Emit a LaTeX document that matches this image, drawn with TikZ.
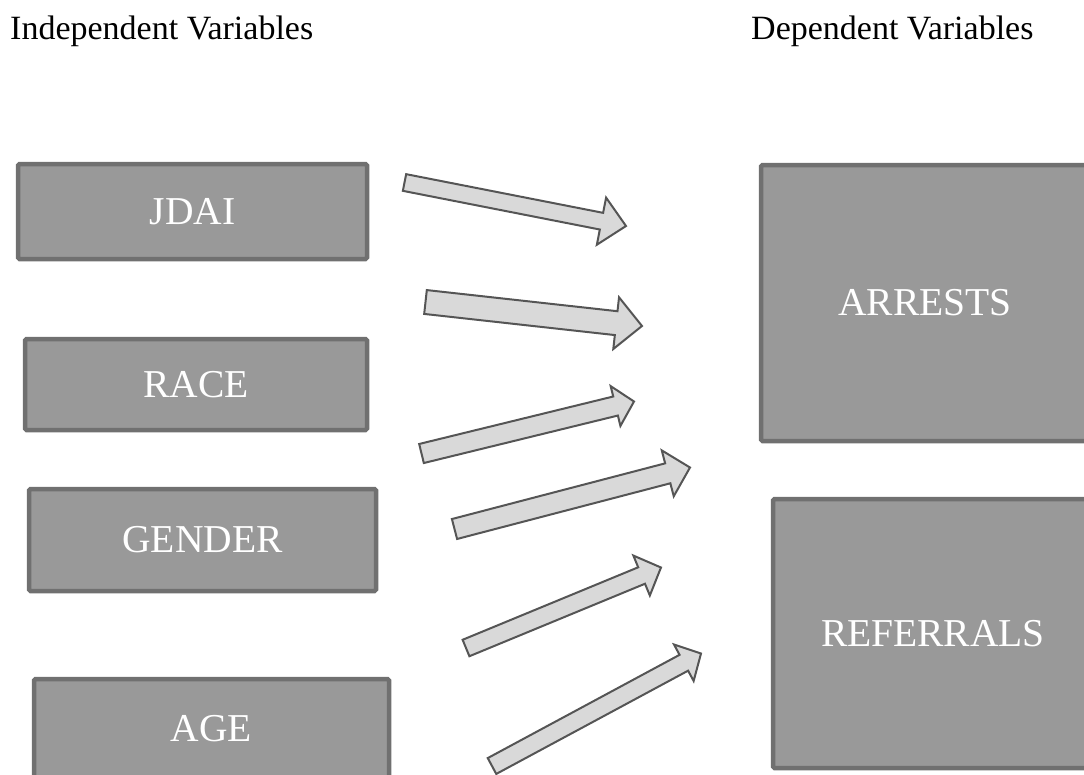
\documentclass[tikz,border=0pt]{standalone}
\usepackage{fontspec}
\setmainfont{Liberation Serif}
\usetikzlibrary{calc}
\definecolor{boxfill}{HTML}{999999}
\definecolor{boxline}{HTML}{707070}
\definecolor{arrfill}{HTML}{D9D9D9}
\definecolor{arrline}{HTML}{555555}
\tikzset{
  varbox/.style={draw=boxline, fill=boxfill, line width=4.5pt, rounded corners=1.5pt,
    text=white, font=\fontsize{39.5}{45}\selectfont, inner sep=0pt},
  heading/.style={font=\fontsize{34}{40}\selectfont, anchor=base west, inner sep=0pt},
  blockarrow/.style={draw=arrline, fill=arrfill, line width=2pt, line join=miter},
}
% tail, tip, shaft half width, head half width, head length
\newcommand\myblockarr[5]{%
  \coordinate (#1-b) at ($(#2)!#5!(#1)$);
  \draw[blockarrow] ($(#1)!#3!90:(#2)$) -- ($(#1-b)!#3!90:(#2)$) -- ($(#1-b)!#4!90:(#2)$)
    -- (#2) -- ($(#1-b)!#4!-90:(#2)$) -- ($(#1-b)!#3!-90:(#2)$) -- ($(#1)!#3!-90:(#2)$) -- cycle;
}
\begin{document}
\begin{tikzpicture}[x=1pt,y=-1pt]
  \useasboundingbox (0,0) rectangle (1084,774);
  \clip (0,0) rectangle (1084,774);

  \node[heading] (indep) at (10,39) {Independent Variables};
  \node[heading] (dep) at (751,39) {Dependent Variables};

  \node[varbox, minimum width=349pt, minimum height=95pt] (jdai) at (192.5,211.5) {JDAI};
  \node[varbox, minimum width=342pt, minimum height=91pt] (race) at (196,384.5) {RACE};
  \node[varbox, minimum width=347pt, minimum height=102pt] (gender) at (202.5,540) {GENDER};
  \node[varbox, minimum width=355pt, minimum height=100pt] (age) at (211.5,729) {AGE};
  \node[varbox, minimum width=328pt, minimum height=276pt] (arrests) at (925,303) {ARRESTS};
  \node[varbox, minimum width=320pt, minimum height=269pt] (referrals) at (933,633.5) {REFERRALS};

  \coordinate (a1t) at (404.5,182.5); \coordinate (a1h) at (626,226);
  \coordinate (a2t) at (425.5,302);   \coordinate (a2h) at (642,326);
  \coordinate (a3t) at (421.5,453.5); \coordinate (a3h) at (634,401.5);
  \coordinate (a4t) at (454.5,529);   \coordinate (a4h) at (690,467.5);
  \coordinate (a5t) at (466,648);     \coordinate (a5h) at (661,567.5);
  \coordinate (a6t) at (492,766);     \coordinate (a6h) at (701,653.5);

  \myblockarr{a1t}{a1h}{8.5pt}{24pt}{25pt}
  \myblockarr{a2t}{a2h}{12pt}{26pt}{26pt}
  \myblockarr{a3t}{a3h}{9.8pt}{20.5pt}{19pt}
  \myblockarr{a4t}{a4h}{10.3pt}{23.7pt}{23pt}
  \myblockarr{a5t}{a5h}{8.9pt}{21.6pt}{21pt}
  \myblockarr{a6t}{a6h}{9pt}{20.7pt}{19.5pt}
\end{tikzpicture}
\end{document}
